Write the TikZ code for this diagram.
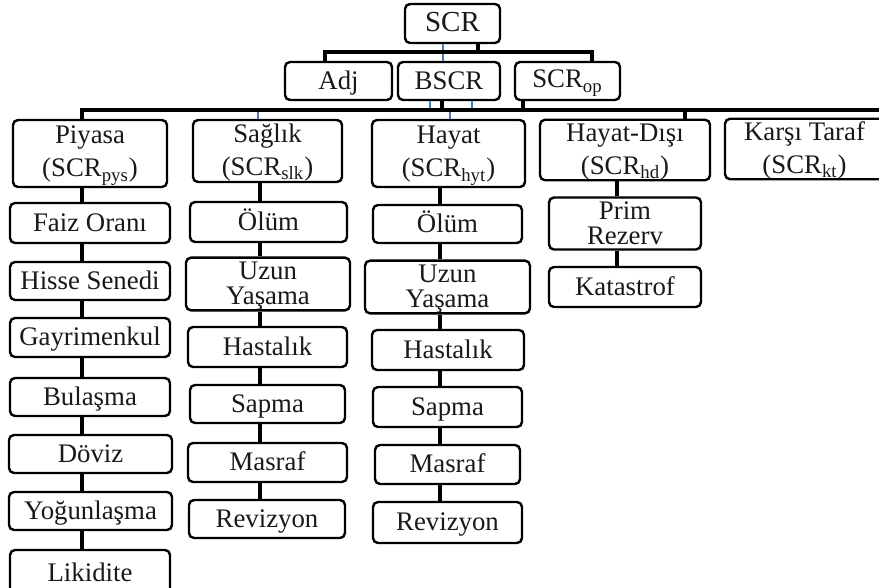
\documentclass[tikz,border=0pt]{standalone}
\usepackage{fontspec}
\setmainfont{Liberation Serif}
\definecolor{linkblue}{RGB}{74,122,178}
\newcommand\stu{\rule[-2.5pt]{0pt}{13.5pt}}
\tikzset{
  box/.style={draw=black, line width=1.2pt, rounded corners=2.5pt, fill=white,
    inner sep=0pt, align=center, text=black!90, font=\fontsize{13.4}{13.5}\selectfont},
  conn/.style={line width=2pt, black},
  bconn/.style={line width=1.2pt, linkblue},
}
\newcommand\bx[6]{\node[box, minimum width={(#4-#2)*0.5pt}, minimum height={(#5-#3)*0.5pt}] (#1) at ({(#2+#4)/2},{(#3+#5)/2}) {\stu#6};}
\begin{document}
\begin{tikzpicture}[x=0.5pt,y=-0.5pt]
\useasboundingbox (0,0) rectangle (879,588);
% top level
\bx{scr}{405}{4}{500}{43}{\fontsize{14.5}{13.5}\selectfont SCR}
\bx{adj}{285}{62}{392}{100}{Adj}
\bx{bscr}{398}{62}{500}{100}{BSCR}
\bx{scrop}{515}{62}{620}{100}{SCR\textsubscript{op}}
% level 2
\bx{piy}{13}{120}{167}{187}{Piyasa\\[1.5pt]\stu(SCR\textsubscript{pys})}
\bx{sag}{193}{120}{342}{182}{Sağlık\\[1.5pt]\stu(SCR\textsubscript{slk})}
\bx{hay}{372}{120}{525}{187}{Hayat\\[1.5pt]\stu(SCR\textsubscript{hyt})}
\bx{hd}{540}{120}{710}{180}{Hayat-Dışı\\[1.5pt]\stu(SCR\textsubscript{hd})}
\bx{kt}{725}{120}{884}{178}{Karşı Taraf\\[1.5pt]\stu(SCR\textsubscript{kt})}
% Piyasa column
\bx{faiz}{10}{203}{170}{243}{Faiz Oranı}
\bx{hisse}{10}{262}{170}{300}{Hisse Senedi}
\bx{gayri}{10}{318}{170}{357}{Gayrimenkul}
\bx{bulas}{10}{378}{170}{416}{Bulaşma}
\bx{doviz}{9}{435}{172}{473}{Döviz}
\bx{yogun}{9}{492}{172}{530}{Yoğunlaşma}
\bx{likid}{10}{550}{170}{596}{Likidite}
% Saglik column
\bx{olumA}{190}{202}{347}{242}{Ölüm}
\bx{uzunA}{186}{260}{350}{308}{Uzun\\[-1pt]\stu Yaşama}
\bx{hastA}{188}{327}{347}{367}{Hastalık}
\bx{sapmaA}{190}{385}{345}{423}{Sapma}
\bx{masrafA}{188}{443}{347}{482}{Masraf}
\bx{revA}{189}{500}{345}{538}{Revizyon}
% Hayat column
\bx{olumB}{373}{205}{522}{243}{Ölüm}
\bx{uzunB}{365}{262}{530}{312}{Uzun\\[-1pt]\stu Yaşama}
\bx{hastB}{372}{330}{524}{370}{Hastalık}
\bx{sapmaB}{373}{387}{522}{427}{Sapma}
\bx{masrafB}{375}{445}{520}{484}{Masraf}
\bx{revB}{373}{502}{522}{543}{Revizyon}
% Hayat-Disi column
\bx{prim}{549}{198}{701}{249}{Prim\\[-1pt]\stu Rezerv}
\bx{kat}{549}{267}{701}{307}{Katastrof}
% blue connectors
\coordinate (bl1) at (443,0);
\coordinate (bl2) at (430,110);
\coordinate (bl3) at (472,110);
\coordinate (bl4) at (450,110);
\coordinate (bl5) at (258,110);
\draw[bconn] (scr.south -| bl1) -- (bscr.north -| bl1);
\draw[bconn] (bscr.south -| bl2) -- (bl2);
\draw[bconn] (bscr.south -| bl3) -- (bl3);
\draw[bconn] (bl4) -- (hay.north -| bl4);
\draw[bconn] (bl5) -- (sag.north -| bl5);
% top bar
\coordinate (j1) at (478,52);
\coordinate (adjx) at (325,52);
\coordinate (opx) at (592,52);
\draw[conn] (scr.south -| j1) -- (j1);
\draw[conn] (adj.north -| adjx) -- (adjx) -- (opx) -- (scrop.north -| opx);
% second bar
\coordinate (L) at (82,110);
\coordinate (R) at (884,110);
\coordinate (b1) at (442,110);
\coordinate (op2) at (523,110);
\coordinate (hdx) at (685,110);
\draw[conn] (piy.north -| L) -- (L) -- (R);
\draw[conn] (bscr.south -| b1) -- (b1);
\draw[conn] (scrop.south -| op2) -- (op2);
\draw[conn] (hdx) -- (hd.north -| hdx);
% chains
\coordinate (c1) at (82,0);
\coordinate (c2) at (260,0);
\coordinate (c3) at (440,0);
\coordinate (c4) at (617,0);
\foreach \a/\b in {piy/faiz,faiz/hisse,hisse/gayri,gayri/bulas,bulas/doviz,doviz/yogun,yogun/likid}
  \draw[conn] (\a.south -| c1) -- (\b.north -| c1);
\foreach \a/\b in {sag/olumA,olumA/uzunA,uzunA/hastA,hastA/sapmaA,sapmaA/masrafA,masrafA/revA}
  \draw[conn] (\a.south -| c2) -- (\b.north -| c2);
\foreach \a/\b in {hay/olumB,olumB/uzunB,uzunB/hastB,hastB/sapmaB,sapmaB/masrafB,masrafB/revB}
  \draw[conn] (\a.south -| c3) -- (\b.north -| c3);
\foreach \a/\b in {hd/prim,prim/kat}
  \draw[conn] (\a.south -| c4) -- (\b.north -| c4);
\end{tikzpicture}
\end{document}
